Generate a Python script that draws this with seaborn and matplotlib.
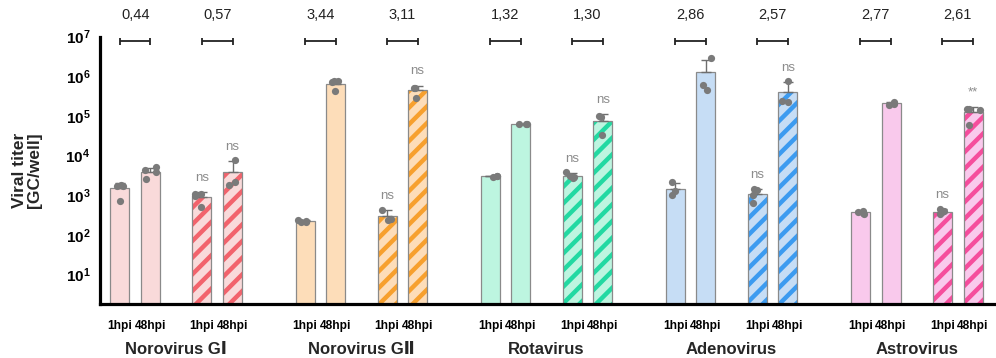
import numpy as np
import pandas as pd
import matplotlib
matplotlib.use("Agg")
import matplotlib.pyplot as plt
import matplotlib.transforms as mtransforms
from matplotlib.patches import Rectangle
import seaborn as sns

# ---------------- data ----------------
viruses = ["Norovirus G\u2160", "Norovirus G\u2161", "Rotavirus", "Adenovirus", "Astrovirus"]
timepoints = ["1hpi", "48hpi", "1hpi", "48hpi"]
treated = [False, False, True, True]

noro_gi = [[1800, 1750, 1700, 700], [5000, 3800, 4200, 2600],
           [1100, 1100, 950, 500], [7900, 1800, 2100]]
noro_gii = [[215, 240, 225, 205], [750000, 720000, 740000, 420000],
            [430, 240, 250], [520000, 520000, 280000]]
rota = [[3000, 3100, 2900], [62000, 64000, 61000],
        [3900, 2900, 2700, 3000], [97000, 95000, 33000]]
adeno = [[2100, 1030, 1250], [2850000, 440000, 610000],
         [1400, 1350, 650, 1000], [750000, 240000, 230000]]
astro = [[380, 400, 330, 360], [230000, 190000, 200000],
         [450, 390, 330, 380], [150000, 148000, 145000, 60000]]
replicates = [noro_gi, noro_gii, rota, adeno, astro]

log_increase = [[0.44, 0.57], [3.44, 3.11], [1.32, 1.30], [2.86, 2.57], [2.77, 2.61]]
significance = [["ns", "ns"], ["ns", "ns"], ["ns", "ns"], ["ns", "ns"], ["ns", "**"]]

light_colors = ["#F9DADA", "#FDDDB9", "#BDF5E0", "#C6DDF5", "#F9C9EC"]
dark_colors = ["#F2636C", "#F7A02E", "#22D9A2", "#3C9BF0", "#F54D9C"]

# ---------------- layout ----------------
in_group = [0.0, 1.0, 2.68, 3.68]
group_pitch = 6.05

rows = []
bar_pos, bar_info = [], []
for g, v in enumerate(viruses):
    for b in range(4):
        pos = g * group_pitch + in_group[b]
        key = f"{g}-{b}"
        bar_pos.append(pos)
        bar_info.append((g, b, key))
        for val in replicates[g][b]:
            rows.append(dict(virus=v, tp=timepoints[b], treated=treated[b],
                             pos=pos, key=key, value=val))
df = pd.DataFrame(rows)

palette = {f"{g}-{b}": light_colors[g] for g in range(5) for b in range(4)}

plt.rcParams["hatch.linewidth"] = 3.2
sns.set_style("white")
plt.rcParams["font.family"] = ["Liberation Sans", "DejaVu Sans"]
plt.rcParams["mathtext.fontset"] = "custom"
plt.rcParams["mathtext.bf"] = "Liberation Sans:bold"
plt.rcParams["mathtext.rm"] = "Liberation Sans"

fig = plt.figure(figsize=(9.96, 3.58), dpi=100)
ax = fig.add_axes([0.1004, 0.151, 0.8996, 0.7465])

edge_grey = "#8a8a8a"
sns.barplot(data=df, x="pos", y="value", hue="key", palette=palette, saturation=1,
            native_scale=True, dodge=False, errorbar=None, width=0.62,
            legend=False, edgecolor=edge_grey, linewidth=0.9, ax=ax)

# hatch the treated bars
for p in list(ax.patches):
    cx = p.get_x() + p.get_width() / 2
    idx = int(np.argmin([abs(cx - bp) for bp in bar_pos]))
    g, b, _ = bar_info[idx]
    if treated[b]:
        p.set_facecolor(light_colors[g])
        p.set_edgecolor(dark_colors[g])
        p.set_hatch("//")
        p.set_linewidth(0)
        ax.add_patch(Rectangle((p.get_x(), p.get_y()), p.get_width(), p.get_height(),
                               fill=False, edgecolor=edge_grey, linewidth=0.9,
                               zorder=p.get_zorder() + 0.1))

# mean + SD (upper) error bars
stats = df.groupby("key", sort=False)["value"].agg(["mean", "std"]).reset_index()
stats = stats.merge(df[["key", "pos"]].drop_duplicates(), on="key")
ax.errorbar(stats["pos"], stats["mean"], yerr=[np.zeros(len(stats)), stats["std"]],
            fmt="none", ecolor="#6e6e6e", elinewidth=1.0, capsize=3.5, capthick=1.0, zorder=5)

np.random.seed(3)
sns.stripplot(data=df, x="pos", y="value", native_scale=True, color="#7a7a7a",
              size=5.2, jitter=0.24, ax=ax, zorder=6, legend=False)

ax.set_yscale("log")
ax.set_ylim(1.8, 1e7)
ax.set_xlim(-0.65, 4 * group_pitch + in_group[3] + 0.75)
ax.minorticks_off()
ax.set_yticks([10.0 ** k for k in range(1, 8)])
ax.set_yticklabels([r"$\mathbf{10^{%d}}$" % k for k in range(1, 8)], fontsize=11)
ax.set_xticks(bar_pos)
ax.set_xticklabels([timepoints[b] for (_, b, _) in bar_info], fontsize=8.6, fontweight="bold")
ax.set_xlabel("")
ax.set_ylabel("")

for s in ["top", "right"]:
    ax.spines[s].set_visible(False)
for s in ["left", "bottom"]:
    ax.spines[s].set_linewidth(2.3)
    ax.spines[s].set_color("black")
ax.tick_params(axis="y", length=5, width=2.3, pad=2, colors="black")
ax.tick_params(axis="x", length=6.5, width=2.3, pad=5, colors="black")

# significance labels over treated bars
st = stats.set_index("key")
for g in range(5):
    for j, b in enumerate([2, 3]):
        key = f"{g}-{b}"
        top = st.loc[key, "mean"] + st.loc[key, "std"]
        ax.text(st.loc[key, "pos"], top * 10 ** 0.36, significance[g][j],
                ha="center", va="center", fontsize=9.5, color="#8c8c8c")

# brackets with log-increase values
y_br = 10 ** 6.88
f = 10 ** 0.09
for g in range(5):
    for j, (b1, b2) in enumerate([(0, 1), (2, 3)]):
        x1 = g * group_pitch + in_group[b1]
        x2 = g * group_pitch + in_group[b2]
        kw = dict(color="#222222", lw=1.3, clip_on=False, solid_capstyle="butt")
        ax.plot([x1, x2], [y_br, y_br], **kw)
        ax.plot([x1, x1], [y_br / f, y_br * f], **kw)
        ax.plot([x2, x2], [y_br / f, y_br * f], **kw)
        ax.text((x1 + x2) / 2, 10 ** 7.56, f"{log_increase[g][j]:.2f}".replace(".", ","),
                ha="center", va="center", fontsize=10.5, color="#222222", clip_on=False)

# group labels
trans = mtransforms.blended_transform_factory(ax.transData, fig.transFigure)
for g, v in enumerate(viruses):
    cx = g * group_pitch + np.mean(in_group)
    ax.text(cx, 1 - 350 / 358, v, transform=trans, ha="center", va="center",
            fontsize=12, fontweight="bold", family=["Liberation Sans", "DejaVu Sans"])

fig.text(27 / 996, 1 - 170 / 358, "Viral titer\n[GC/well]", rotation=90,
         ha="center", va="center", fontsize=12.5, fontweight="bold", linespacing=1.0)

fig.savefig("out.png", dpi=100)
